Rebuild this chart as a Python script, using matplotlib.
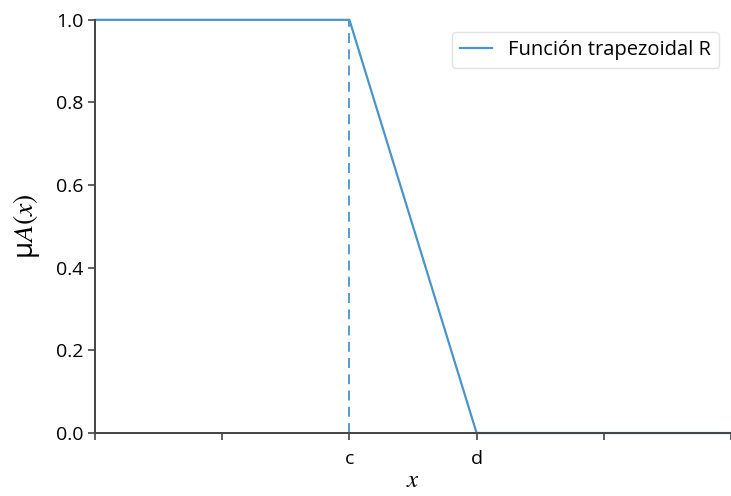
import numpy as np
import matplotlib.pyplot as plt

plt.rcParams['font.family'] = ['Open Sans', 'DejaVu Sans']
plt.rcParams['mathtext.fontset'] = 'stix'

# trapezoidal R membership function: flat at 1 until c, falls to 0 at d
x_pts = [0, 2, 3, 5]
mu_pts = [1.0, 1.0, 0.0, 0.0]
c_pos = 2
tick_pos = [0, 1, 2, 3, 4, 5]
tick_labels = ['', '', 'c', 'd', '', '']
y_ticks = [0.0, 0.2, 0.4, 0.6, 0.8, 1.0]

fig = plt.figure(figsize=(7.31, 4.96), dpi=100)
ax = fig.add_axes([0.130, 0.127, 0.870, 0.833])

ax.plot(x_pts, mu_pts, color='#4a94c8', lw=1.6, label='Función trapezoidal R', clip_on=False)
ax.plot([c_pos, c_pos], [0, 1], color='#4a94c8', lw=1.3, ls=(0, (5.5, 3.5)))

ax.set_xlim(0, 5)
ax.set_ylim(0, 1.0)
ax.set_xticks(tick_pos)
ax.set_xticklabels(tick_labels, fontsize=14)
ax.set_yticks(y_ticks)
ax.set_yticklabels([f'{v:.1f}' for v in y_ticks], fontsize=14)
ax.set_xlabel('$x$', fontsize=18, labelpad=0)
ax.set_ylabel('μ$A(x)$', fontsize=20, labelpad=10)

for s in ['top', 'right']:
    ax.spines[s].set_visible(False)
for s in ['left', 'bottom']:
    ax.spines[s].set_color('#444444')
    ax.spines[s].set_linewidth(1.4)
ax.tick_params(color='#444444', width=1.2, length=5)
ax.tick_params(axis='x', pad=7)

ax.legend(loc='upper right', fontsize=14.5, frameon=True, edgecolor='#dddddd',
          handlelength=1.6, borderaxespad=0.6)

plt.savefig('out.png', dpi=100)
